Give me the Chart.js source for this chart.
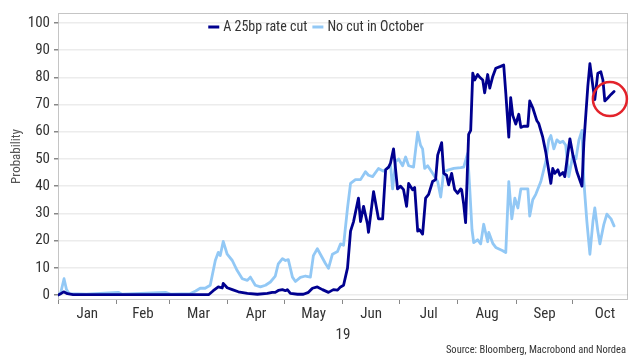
<!DOCTYPE html>
<html>
<head>
<meta charset="utf-8">
<script src="https://cdn.jsdelivr.net/npm/chart.js@4/dist/chart.umd.min.js"></script>
<style>
html,body{margin:0;padding:0;background:#fff;}
#wrap{width:640px;height:356px;}
</style>
</head>
<body>
<div id="wrap"><canvas id="c" width="640" height="356"></canvas></div>
<script>
// Day-of-year (0 = 1 Jan 2019) and probability values
const cutDays = [0,1.5,3,5,8,80,82.3,85,87.1,87.6,89.7,92.4,95.6,100.4,105.7,111,113.6,115.2,116.8,119,120.6,121.6,123.2,127,130.1,132.8,134.9,137.5,140.2,143.4,146,148.2,149.8,151.4,153.5,155.1,156.7,159.3,160.4,162,164.1,164.6,167.3,169.9,172.1,173.7,175.3,176.3,177.9,180,181.6,183.2,184.8,185.9,188,189.1,190.7,191.7,193.3,194.9,196.5,198.6,200.2,201.3,203.4,204.5,206,207.1,208.7,210.3,211.9,213.5,214,215.1,216.1,217.7,218.8,219.9,220.9,222.5,223.6,225.2,226.2,227.8,228.9,230.5,232.1,234.7,236.3,237.4,239,240,241.1,242.7,244.3,245.4,246.9,249.1,250.1,251.7,253.9,254.9,257,258.6,259.7,261.3,262.3,263.4,265,266.1,267.7,268.7,270.3,271.4,273,275.1,277.8,278.8,280.9,282,283.6,284.6,286.2,287.8,288.9,289.9,291.6,293.2,294.8];
const cutValues = [0,0.5,1.2,0.5,0.2,0.2,1.6,3,2.6,4.3,2.7,2,1.2,0.6,0.3,0.6,1,1,1.7,2,1.6,2,0.6,0.3,0.3,1,2.5,3,2,1,2,1.8,3,3.6,10,23.5,27,35.6,27,32.6,26,23,38,28,28,46,47,48.5,53.7,39,40,38.7,32.6,41,38.7,39.5,23.5,24,22.4,35.6,37,41.7,42.4,51.4,56,44.7,44,40.5,44.7,38.7,37.4,39,38.7,33.3,26.6,59,60.5,81.5,79,81,80,79,74.3,81,76,80.3,83.3,84,84.5,74.3,58,72.5,66,62.8,66.4,61.6,62,62,71.3,68.8,64,63,58,52.5,47.8,41,46.5,44.7,46,44,45,43.5,52,57.4,51.4,45.3,40,56,76.7,85,76.6,71.8,81.5,82,79,71.3,72.5,73.7,74.8];

const noCutDays = [0,1.5,3.2,4.5,6,15,32,34,57,60,70,73,75.4,78,80.7,83.4,85,86,87.6,89.7,92.4,95,97.7,100.4,102,104.6,107.3,110,112.6,115.2,116.8,119,120.6,122.1,124.3,125.9,128.5,131.2,133.8,135.4,137.5,139.1,141.8,143.4,145.5,148.2,149.8,151.4,153.5,155.1,157.7,160.4,163,164.6,166.8,169.9,172.6,175.3,176.3,177.4,179,180.6,182.7,184.3,185.9,188.5,190.7,192.2,193.3,194.4,196,198.6,201.3,202.9,204.5,207.1,209.8,213.5,215.1,217.2,218.3,219.5,220.4,222.5,224.1,225.7,227.8,228.4,230.5,232.1,235.8,237.4,239,240.6,242.2,243.8,245.4,246.9,249.1,250.1,251.7,253.3,256,258.6,260.2,261.3,262.9,264.5,266.1,267.7,269.2,270.8,273,274.6,276.2,277.8,278.8,280.4,282,283.6,284.6,286.2,287.3,289.4,291,293.2,294.8];
const noCutValues = [0,1,6,2,0.5,0.3,1,0.3,1,0.3,0.5,1.5,2.5,2.5,3.6,12.7,15.7,14.5,19.7,15,12.7,9,6,5.4,6.6,3.6,3,3.6,4.8,7,11.5,13.4,12.7,13,6.6,5,6.5,7,6.6,14.5,17,15,11.6,9.8,15,16,18.8,18.3,32,41,42.4,42.4,45.3,44,43.5,46.5,45.5,47,47.8,39,49,50,47.5,50.7,47.5,47,59.8,55,53.7,46.5,47.5,44.7,41.7,36,45.3,46,46.5,46.8,47,52,39,24,19.3,20.3,18.8,26,19.6,23,19,17.5,16.3,15.6,41.7,28,35.6,32,39,39,39,29,35,37,41.7,49,57,58.6,53.7,57,56,56.5,55,43.5,51.4,50,57,60.5,41.7,27,15,27,32,23.5,18.8,26,29.7,28,25.4];

const seriesNames = ['A 25bp rate cut', 'No cut in October'];
const monthNames = ['Jan','Feb','Mar','Apr','May','Jun','Jul','Aug','Sep','Oct'];
const monthStartDays = [0,31,59,90,120,151,181,212,243,273];
const monthLabelDays = [15.5,45,74.5,105,135.5,166,196.5,227.5,258,290];
const yTickValues = [0,10,20,30,40,50,60,70,80,90,100];
const yearLabel = '19';
const yTitle = 'Probability';
const sourceText = 'Source: Bloomberg, Macrobond and Nordea';
const circleAt = {day: 292.6, value: 72};

const FONT = "'Roboto Condensed', 'Liberation Sans Narrow', Roboto, sans-serif";
const DARK = '#00008f';
const LIGHT = '#92c8f5';

const toPts = (xs, ys) => xs.map((x, i) => ({x: x, y: ys[i]}));

const overlay = {
  id: 'overlay',
  beforeDatasetsDraw(chart) {
    const {ctx, chartArea: a} = chart;
    ctx.save();
    ctx.strokeStyle = '#8a8a8a';
    ctx.lineWidth = 1;
    ctx.setLineDash([1, 1]);
    ctx.strokeRect(a.left + 0.5, a.top + 0.5, a.right - a.left - 1, a.bottom - a.top - 1);
    ctx.restore();
  },
  afterDraw(chart) {
    const {ctx, scales} = chart;
    ctx.save();
    // legend
    ctx.font = '14px ' + FONT;
    ctx.textBaseline = 'middle';
    const sw = 11, gap = 4, itemGap = 5;
    const items = chart.data.datasets.map(d => ({label: d.label, color: d.borderColor, w: sw + gap + ctx.measureText(d.label).width}));
    const total = items.reduce((s, it) => s + it.w, 0) + itemGap * (items.length - 1);
    let x = 316 - total / 2;
    const ly = 27;
    items.forEach(it => {
      ctx.strokeStyle = it.color;
      ctx.lineWidth = 3;
      ctx.beginPath();
      ctx.moveTo(x, ly);
      ctx.lineTo(x + sw, ly);
      ctx.stroke();
      ctx.fillStyle = '#333';
      ctx.fillText(it.label, x + sw + gap, ly + 0.5);
      x += it.w + itemGap;
    });
    // red circle annotation
    const cx = scales.x.getPixelForValue(circleAt.day);
    const cy = scales.y.getPixelForValue(circleAt.value);
    ctx.strokeStyle = '#e3232b';
    ctx.lineWidth = 2.5;
    ctx.beginPath();
    ctx.arc(cx, cy, 17, 0, Math.PI * 2);
    ctx.stroke();
    // source
    ctx.font = '10.5px ' + FONT;
    ctx.fillStyle = '#333';
    ctx.textAlign = 'right';
    ctx.textBaseline = 'alphabetic';
    ctx.fillText(sourceText, 626, 353);
    ctx.restore();
  }
};

new Chart(document.getElementById('c'), {
  type: 'line',
  data: {
    datasets: [
      {label: seriesNames[0], data: toPts(cutDays, cutValues), borderColor: DARK, borderWidth: 2.8},
      {label: seriesNames[1], data: toPts(noCutDays, noCutValues), borderColor: LIGHT, borderWidth: 2.8}
    ]
  },
  options: {
    responsive: false,
    animation: false,
    devicePixelRatio: 1,
    layout: {padding: {left: 0, right: 12, top: 9, bottom: 12}},
    elements: {
      line: {tension: 0, borderJoinStyle: 'round', borderCapStyle: 'round'},
      point: {radius: 0}
    },
    plugins: {legend: {display: false}, tooltip: {enabled: false}},
    scales: {
      x: {
        type: 'linear',
        min: 0,
        max: 302.2,
        afterBuildTicks(scale) {
          const t = monthStartDays.map(v => ({value: v, major: true}))
            .concat(monthLabelDays.map(v => ({value: v})));
          scale.ticks = t;
        },
        afterFit(scale) { scale.height = 44; },
        ticks: {
          autoSkip: false,
          maxRotation: 0,
          padding: 1,
          color: '#333',
          font: {family: FONT, size: 15},
          callback(value) {
            const i = monthLabelDays.indexOf(value);
            return i >= 0 ? monthNames[i] : '';
          }
        },
        grid: {
          drawOnChartArea: false,
          tickLength: 4,
          tickColor: ctx => (ctx.tick && monthStartDays.indexOf(ctx.tick.value) >= 0) ? '#888' : 'rgba(0,0,0,0)'
        },
        border: {display: false},
        title: {display: true, text: yearLabel, color: '#333', font: {family: FONT, size: 15}, padding: {top: 0, bottom: 0}}
      },
      y: {
        min: -1.81,
        max: 103.6,
        afterBuildTicks(scale) { scale.ticks = yTickValues.map(v => ({value: v})); },
        afterFit(scale) { scale.width = 58; },
        ticks: {color: '#333', font: {family: FONT, size: 15}, padding: 4},
        grid: {color: '#ececec', lineWidth: 1.5, tickLength: 4, tickColor: '#888'},
        border: {display: false},
        title: {display: true, text: yTitle, color: '#555', font: {family: FONT, size: 13}, padding: {top: 9, bottom: 0}}
      }
    }
  },
  plugins: [overlay]
});
</script>
</body>
</html>
